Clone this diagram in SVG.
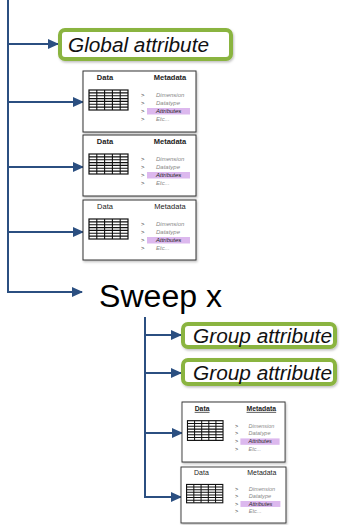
<svg xmlns="http://www.w3.org/2000/svg" xmlns:xlink="http://www.w3.org/1999/xlink" width="340" height="525" viewBox="0 0 340 525">
<style>
.conn{fill:none;stroke:#2b4f81;stroke-width:2}
.gbox{fill:#fff;stroke:#8ab43f;stroke-width:4}
.gtxt{font-family:"Liberation Sans",Arial,sans-serif;font-style:italic;font-size:19.5px;fill:#111}
.dbox{fill:#fff;stroke:#333;stroke-width:1}
.hdr{font-family:"Liberation Sans",Arial,sans-serif;font-size:7.5px;fill:#222;text-anchor:middle}
.b{font-weight:bold}
.u{text-decoration:underline}
.it{font-family:"Liberation Sans",Arial,sans-serif;font-style:italic;font-size:6px;fill:#888}
.bul{font-family:"Liberation Sans",Arial,sans-serif;font-size:6px;fill:#333}
.big{font-family:"Liberation Sans",Arial,sans-serif;font-size:31px;fill:#000}
</style>
<defs>
<marker id="ah" markerUnits="userSpaceOnUse" markerWidth="11" markerHeight="10" refX="10" refY="5" orient="auto">
<path d="M0,0 L11,5 L0,10 z" fill="#2b4f81"/>
</marker>
<filter id="sh" x="-10%" y="-20%" width="125%" height="150%">
<feDropShadow dx="1" dy="1.5" stdDeviation="1.2" flood-color="#000" flood-opacity="0.25"/>
</filter>
<g id="dbody">
<rect x="6" y="19" width="39" height="20" fill="#fff" stroke="#111" stroke-width="1.2"/>
<path d="M13.8,19 V39 M21.6,19 V39 M29.4,19 V39 M37.2,19 V39 M6,21.9 H45 M6,24.7 H45 M6,27.6 H45 M6,30.4 H45 M6,33.3 H45 M6,36.1 H45" stroke="#111" stroke-width="1.1"/>
<rect x="64" y="37" width="43" height="6.5" fill="#dcb8ee"/>
<text class="bul" x="58" y="26">&gt;</text>
<text class="bul" x="58" y="34">&gt;</text>
<text class="bul" x="58" y="42">&gt;</text>
<text class="bul" x="58" y="50">&gt;</text>
<text class="it" x="73" y="26">Dimension</text>
<text class="it" x="73" y="34">Datatype</text>
<text class="it" x="73" y="42" style="fill:#222">Attributes</text>
<text class="it" x="73" y="50">Etc...</text>
</g>
</defs>

<g id="connectors">
<path class="conn" d="M8,0 V292 H82" marker-end="url(#ah)"/>
<path class="conn" d="M8,44 H58" marker-end="url(#ah)"/>
<path class="conn" d="M8,102 H83" marker-end="url(#ah)"/>
<path class="conn" d="M8,167 H83" marker-end="url(#ah)"/>
<path class="conn" d="M8,232 H83" marker-end="url(#ah)"/>
<path class="conn" d="M145,317 V497 H181" marker-end="url(#ah)"/>
<path class="conn" d="M145,335 H181" marker-end="url(#ah)"/>
<path class="conn" d="M145,373 H181" marker-end="url(#ah)"/>
<path class="conn" d="M145,433 H182" marker-end="url(#ah)"/>
</g>

<g id="global-attribute">
<rect class="gbox" x="60" y="30" width="171" height="29" rx="5" filter="url(#sh)"/>
<text class="gtxt" x="68" y="51.5" textLength="141" lengthAdjust="spacingAndGlyphs">Global attribute</text>
</g>

<g id="data1" transform="translate(83,71)">
<rect class="dbox" x="0" y="0" width="113" height="61" filter="url(#sh)"/>
<text class="hdr b" x="22" y="9">Data</text>
<text class="hdr b" x="87" y="9">Metadata</text>
<use href="#dbody"/>
</g>

<g id="data2" transform="translate(83,135)">
<rect class="dbox" x="0" y="0" width="113" height="61" filter="url(#sh)"/>
<text class="hdr b" x="22" y="9">Data</text>
<text class="hdr b" x="87" y="9">Metadata</text>
<use href="#dbody"/>
</g>

<g id="data3" transform="translate(83,200)">
<rect class="dbox" x="0" y="0" width="113" height="60" filter="url(#sh)"/>
<text class="hdr" x="22" y="9">Data</text>
<text class="hdr" x="87" y="9">Metadata</text>
<use href="#dbody"/>
</g>

<g id="sweep-x">
<text class="big" x="99" y="307" textLength="123" lengthAdjust="spacingAndGlyphs">Sweep x</text>
</g>

<g id="group-attribute-1">
<rect class="gbox" x="183" y="324" width="152" height="23" rx="5" filter="url(#sh)"/>
<text class="gtxt" x="193" y="342.5" textLength="139" lengthAdjust="spacingAndGlyphs">Group attribute</text>
</g>

<g id="group-attribute-2">
<rect class="gbox" x="183" y="360" width="152" height="24" rx="5" filter="url(#sh)"/>
<text class="gtxt" x="193" y="379.5" textLength="139" lengthAdjust="spacingAndGlyphs">Group attribute</text>
</g>

<g id="data4" transform="translate(182,402) scale(0.912,0.984)">
<rect class="dbox" x="0" y="0" width="113" height="61" filter="url(#sh)"/>
<text class="hdr b u" x="22" y="9">Data</text>
<text class="hdr b u" x="87" y="9">Metadata</text>
<use href="#dbody"/>
</g>

<g id="data5" transform="translate(181,467) scale(0.929,0.918)">
<rect class="dbox" x="0" y="0" width="113" height="61" filter="url(#sh)"/>
<text class="hdr" x="22" y="9">Data</text>
<text class="hdr" x="87" y="9">Metadata</text>
<use href="#dbody"/>
</g>
</svg>
